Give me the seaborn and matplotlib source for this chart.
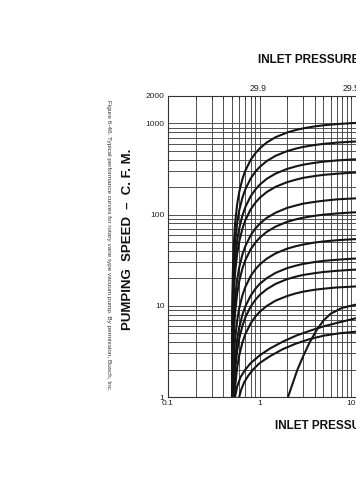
import matplotlib
matplotlib.use("Agg")
import matplotlib.pyplot as plt
import seaborn as sns
import pandas as pd
from matplotlib.ticker import LogLocator, NullFormatter, FixedLocator, FixedFormatter

# ---------------- data ----------------
# shared pressure grid (torr) for the curves that rise from ~0.5 torr
x_main = [0.5, 0.502, 0.505, 0.51, 0.52, 0.54, 0.57, 0.6, 0.65, 0.7, 0.8, 0.9,
          1.0, 1.2, 1.5, 2.0, 2.5, 3.0, 4.0, 5.0, 7.0, 10.0, 14.0]

c1 = [0.5, 4.2, 10.5, 20.8, 40.8, 78.5, 130, 177, 245, 303, 398, 471,
      530, 618, 707, 795, 848, 883, 928, 954, 984, 1007, 1022]
c2 = [0.5, 2.6, 6.6, 13, 25.5, 49, 81, 111, 153, 189, 249, 295,
      332, 387, 442, 497, 530, 553, 580, 597, 616, 630, 639]
c3 = [0.5, 1.7, 4.2, 8.3, 16.3, 31.3, 52, 70.5, 97.6, 121, 159, 188,
      212, 247, 282, 317, 338, 353, 370, 381, 393, 402, 408]
c4 = [0.5, 1.2, 3.0, 5.9, 11.7, 22.5, 37.2, 50.5, 70, 86.6, 114, 135,
      152, 177, 202, 227, 242, 253, 265, 273, 281, 288, 292]
c5 = [0.5, 0.63, 1.56, 3.1, 6.1, 11.7, 19.4, 26.3, 36.5, 45.1, 59.3, 70.2,
      79, 92.2, 105, 118.5, 126, 132, 138, 142, 147, 150, 152]
c6 = [0.4, 0.44, 1.1, 2.2, 4.3, 8.2, 13.6, 18.5, 25.6, 31.7, 41.6, 49.3,
      55.5, 64.7, 74, 83.3, 88.8, 92.5, 97.1, 99.9, 103, 105.5, 107]
c7 = [0.2, 0.22, 0.56, 1.1, 2.2, 4.2, 6.9, 9.4, 13, 16.1, 21.2, 25.1,
      28.2, 32.9, 37.6, 42.3, 45.1, 47, 49.4, 50.8, 52.4, 53.6, 54.4]
c8 = [0.1, 0.14, 0.34, 0.68, 1.33, 2.56, 4.24, 5.75, 7.96, 9.86, 12.9, 15.3,
      17.3, 20.1, 23, 25.9, 27.6, 28.8, 30.2, 31.1, 32, 32.8, 33.3]
c9 = [0.1, 0.10, 0.26, 0.51, 1.0, 1.93, 3.2, 4.35, 6.02, 7.46, 9.79, 11.6,
      13.1, 15.2, 17.4, 19.6, 20.9, 21.8, 22.8, 23.5, 24.2, 24.8, 25.2]
c10 = [0.05, 0.07, 0.17, 0.34, 0.66, 1.27, 2.1, 2.85, 3.95, 4.89, 6.41, 7.6,
       8.55, 9.97, 11.4, 12.8, 13.7, 14.3, 15.0, 15.4, 15.9, 16.2, 16.5]

# low-capacity curves with their own pressure points
x11 = [0.54, 0.57, 0.62, 0.7, 0.8, 1.0, 1.3, 1.8, 2.5, 3.5, 5.0, 7.5, 11.3, 14.0]
c11 = [1.0, 1.3, 1.65, 2.0, 2.35, 2.85, 3.4, 4.05, 4.7, 5.3, 5.95, 6.6, 7.3, 7.5]
x12 = [0.6, 0.63, 0.68, 0.75, 0.85, 1.0, 1.3, 1.8, 2.5, 3.5, 5.0, 7.5, 11.3, 14.0]
c12 = [1.0, 1.2, 1.45, 1.7, 2.0, 2.35, 2.8, 3.35, 3.85, 4.3, 4.7, 5.0, 5.2, 5.3]
x13 = [2.05, 2.3, 2.6, 3.0, 3.5, 4.2, 5.0, 6.0, 8.0, 11.3, 14.0]
c13 = [1.0, 1.4, 2.0, 2.8, 3.9, 5.4, 6.9, 8.2, 9.5, 10.3, 10.6]

y_ticks = [1, 10, 100, 1000, 2000]
y_tick_labels = ["1", "10", "100", "1000", "2000"]
x_ticks = [0.1, 1, 10, 100, 1000]
x_tick_labels = ["0.1", "1", "10", "100", "1000"]
top_ticks = [0.96, 10.0]
top_tick_labels = ["29.9", "29.5"]

caption = ("Figure 6-46. Typical performance curves for rotary vane type vacuum pump. "
           "By permission, Busch, Inc.")

# ---------------- build long-form table ----------------
rows = []
for name, ys in [("c1", c1), ("c2", c2), ("c3", c3), ("c4", c4), ("c5", c5),
                 ("c6", c6), ("c7", c7), ("c8", c8), ("c9", c9), ("c10", c10)]:
    for xv, yv in zip(x_main, ys):
        rows.append((name, xv, yv))
for name, xs, ys in [("c11", x11, c11), ("c12", x12, c12), ("c13", x13, c13)]:
    for xv, yv in zip(xs, ys):
        rows.append((name, xv, yv))
df = pd.DataFrame(rows, columns=["curve", "pressure", "speed"])

# ---------------- style ----------------
sns.set_style("white")
plt.rcParams["font.family"] = ["Liberation Sans", "DejaVu Sans"]

fig = plt.figure(figsize=(3.56, 4.8), dpi=100)
ax = fig.add_axes([168 / 356, (480 - 397) / 480, 366 / 356, 301 / 480])

sns.lineplot(data=df, x="pressure", y="speed", units="curve", estimator=None,
             sort=False, color="#151515", lw=1.5, ax=ax, legend=False)

ax.set_xscale("log")
ax.set_yscale("log")
ax.set_xlim(0.1, 1000)
ax.set_ylim(1, 2000)

ax.xaxis.set_major_locator(FixedLocator(x_ticks))
ax.xaxis.set_major_formatter(FixedFormatter(x_tick_labels))
ax.xaxis.set_minor_locator(LogLocator(base=10, subs=range(2, 10), numticks=20))
ax.xaxis.set_minor_formatter(NullFormatter())
ax.yaxis.set_major_locator(FixedLocator(y_ticks))
ax.yaxis.set_major_formatter(FixedFormatter(y_tick_labels))
ax.yaxis.set_minor_locator(LogLocator(base=10, subs=range(2, 10), numticks=20))
ax.yaxis.set_minor_formatter(NullFormatter())

ax.grid(True, which="both", color="#444444", lw=0.65)
ax.set_axisbelow(True)
ax.tick_params(which="both", direction="in", top=True, right=False, length=2.5,
               width=0.6, labelsize=6, pad=2.5, colors="#222222")
ax.tick_params(which="minor", length=2)
for s in ax.spines.values():
    s.set_color("#333333")
    s.set_linewidth(0.8)
ax.set_xlabel("")
ax.set_ylabel("")

sec = ax.secondary_xaxis("top")
sec.xaxis.set_major_locator(FixedLocator(top_ticks))
sec.xaxis.set_major_formatter(FixedFormatter(top_tick_labels))
sec.xaxis.set_minor_locator(FixedLocator([]))
sec.tick_params(length=0, labelsize=6.3, pad=2, colors="#222222")
sec.spines["top"].set_visible(False)

fig.text(258 / 356, 1 - 60 / 480, "INLET PRESSURE \u2013 INCHES HG VACUUM", fontsize=8.5,
         fontweight="bold", ha="left", va="center", color="#111111")
fig.text(275 / 356, 1 - 426 / 480, "INLET PRESSURE \u2013 TORR", fontsize=8.5,
         fontweight="bold", ha="left", va="center", color="#111111")
fig.text(128 / 356, 1 - 239 / 480, "PUMPING  SPEED  \u2013  C. F. M.", fontsize=9.5,
         fontweight="bold", rotation=90, ha="center", va="center", color="#111111")
fig.text(108 / 356, 1 - 245 / 480, caption, fontsize=4.6, rotation=270,
         ha="center", va="center", color="#333333")

fig.savefig("out.png", dpi=100)
